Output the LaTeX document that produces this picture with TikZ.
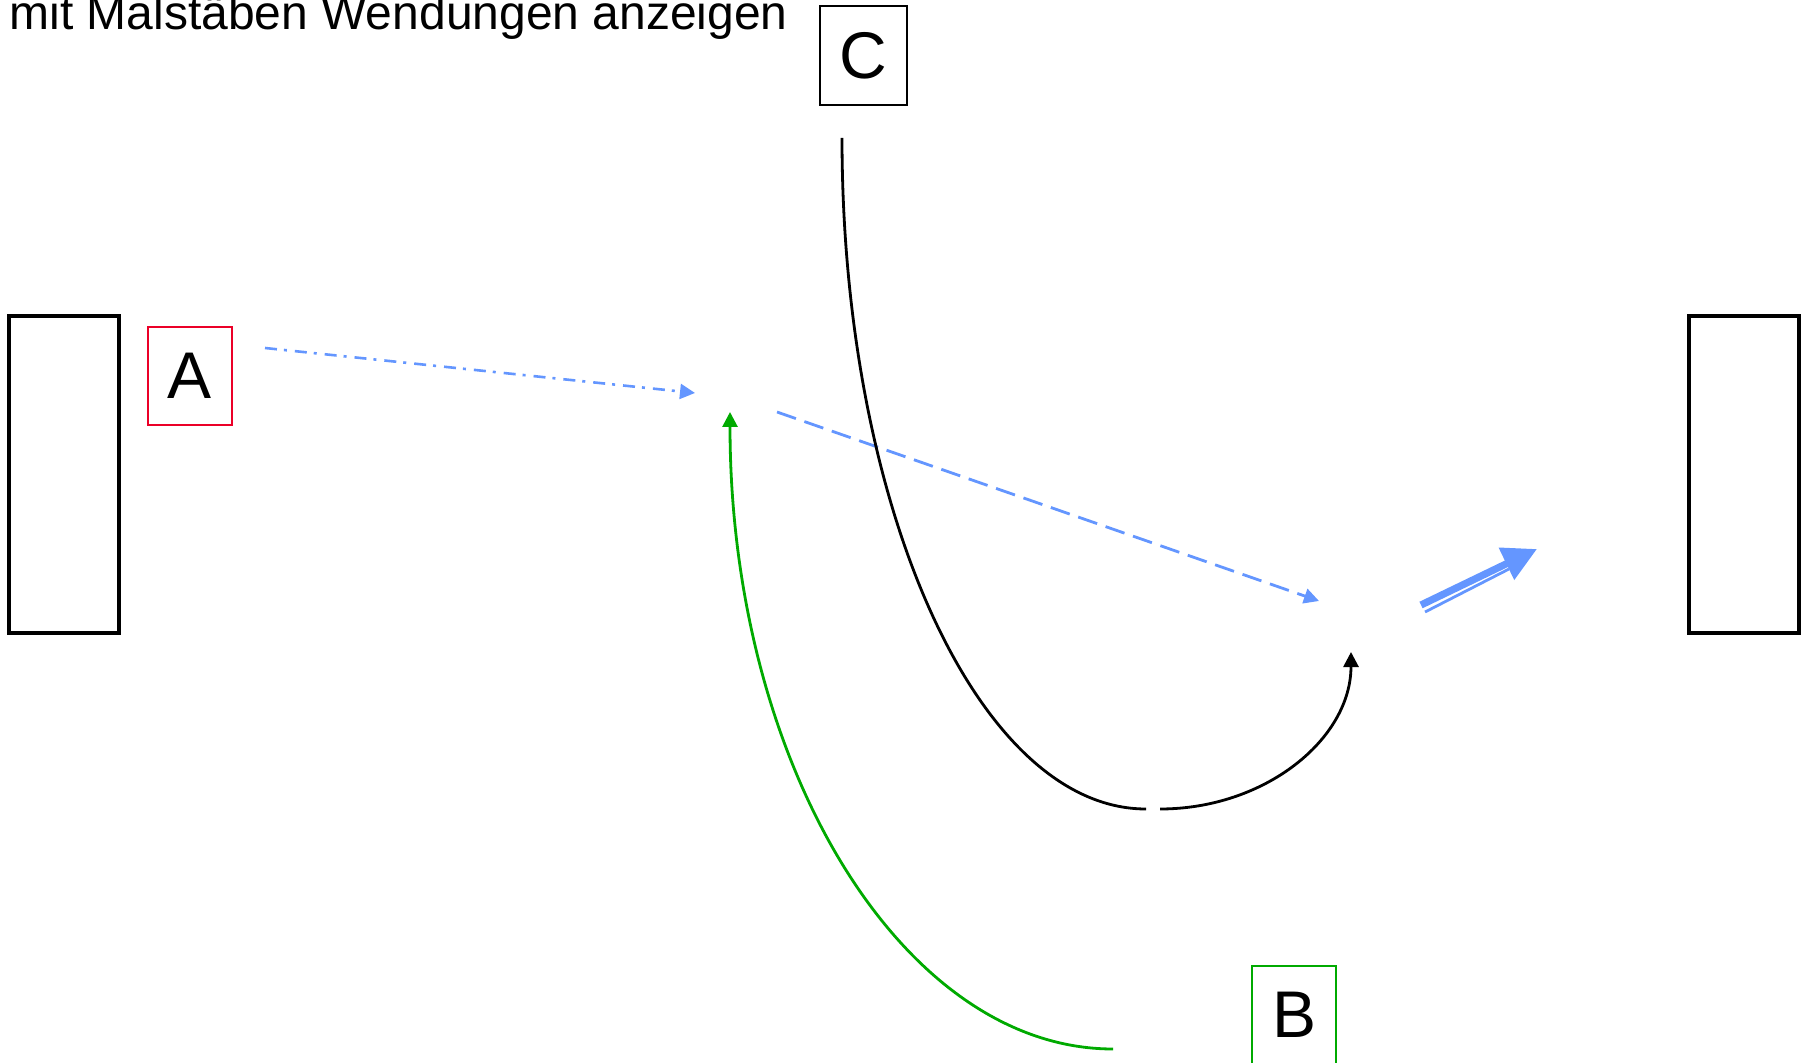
\documentclass[tikz,border=0pt]{standalone}
\usepackage{fontspec}
\setmainfont{Liberation Sans}
\usepackage{tikz}
\usetikzlibrary{arrows.meta, positioning, calc}
\definecolor{moveblue}{RGB}{100, 150, 255}
\definecolor{turngreen}{RGB}{0, 170, 0}
\definecolor{markred}{RGB}{235, 0, 40}

\begin{document}
\begin{tikzpicture}[x=0.5pt, y=-0.5pt,
  wall/.style={draw, line width=1.7pt, minimum width=55pt, minimum height=158.5pt, inner sep=0pt},
  marker/.style={draw, line width=1.4pt, minimum width=42pt, minimum height=49pt, inner sep=0pt, font=\fontsize{33}{33}\selectfont},
  tip/.style={-{Triangle[length=7.5pt, width=7.5pt]}}]
  \useasboundingbox (0,0) rectangle (1808,1063);

  % title
  \node[anchor=base west, inner sep=0pt, font=\fontsize{24}{28}\selectfont] (title) at (9,30) {mit Malstäben Wendungen anzeigen};

  % walls
  \node[wall] (wallL) at (64,474.5) {};
  \node[wall] (wallR) at (1744,474.5) {};

  % markers
  \node[marker, draw=markred] (A) at (190,376) {A};
  \node[marker, draw=turngreen] (B) at (1294,1015) {B};
  \node[marker, minimum width=43.5pt, minimum height=49.5pt] (C) at (863.5,55.5) {C};

  % free ends
  \coordinate (a1) at (265,348);
  \coordinate (a2) at (695,393);
  \coordinate (d1) at (777,412);
  \coordinate (d2) at (1319,601);
  \coordinate (g1) at (1113,1049);
  \coordinate (g2) at (730,412);
  \coordinate (c1) at (842,138);
  \coordinate (c2) at (1146,809);
  \coordinate (c3) at (1160,809);
  \coordinate (c4) at (1351,652);
  \coordinate (m1) at (1421,605);
  \coordinate (m2) at (1537,549);
  \coordinate (n1) at (1425,612);
  \coordinate (n2) at (1509,569);

  % blue moves
  \draw[tip, moveblue, line width=1.3pt, dash pattern=on 6pt off 3.5pt on 1.5pt off 4pt] (a1) -- (a2);
  \draw[tip, moveblue, line width=1.4pt, dash pattern=on 10pt off 4.5pt] (d1) -- (d2);

  % green turn
  \draw[tip, turngreen, line width=1.4pt] (g1) .. controls +(-211,0) and +(0,352) .. (g2);

  % black turn
  \draw[line width=1.4pt] (c1) .. controls +(0,370) and +(-168,0) .. (c2);
  \draw[tip, line width=1.4pt] (c3) .. controls +(105,0) and +(0,87) .. (c4);

  % thick exit arrow
  \draw[moveblue, line width=3.6pt, -{Triangle[length=17pt, width=17pt]}] (m1) -- (m2);
  \draw[moveblue, line width=1.4pt] (n1) -- (n2);
\end{tikzpicture}
\end{document}
